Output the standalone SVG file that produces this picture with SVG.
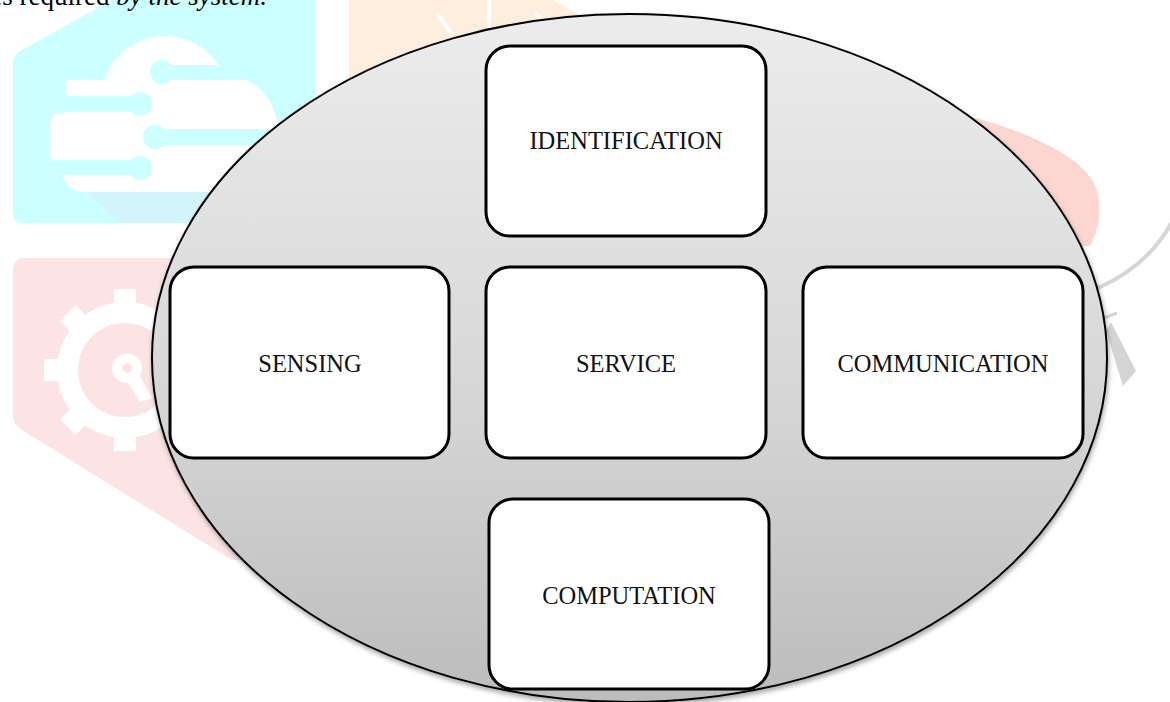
<svg xmlns="http://www.w3.org/2000/svg" width="1170" height="702" viewBox="0 0 1170 702">
<defs>
<linearGradient id="ellGrad" x1="0" y1="0" x2="0" y2="1">
<stop offset="0" stop-color="#ececec"/>
<stop offset="0.5" stop-color="#d9d9d9"/>
<stop offset="1" stop-color="#bcbcbc"/>
</linearGradient>
<filter id="shadow" x="-5%" y="-5%" width="110%" height="115%">
<feGaussianBlur in="SourceAlpha" stdDeviation="2.5"/>
<feOffset dx="1" dy="3" result="b"/>
<feComponentTransfer><feFuncA type="linear" slope="0.35"/></feComponentTransfer>
<feMerge><feMergeNode/><feMergeNode in="SourceGraphic"/></feMerge>
</filter>
<style>
.box{fill:#ffffff;stroke:#000000;stroke-width:3}
.lbl{font-family:"Liberation Serif","Times New Roman",serif;font-size:24.5px;fill:#111111;text-anchor:middle}
.wm-cyan{fill:#ccffff}
.wm-pink{fill:#fde4e4}
.wm-peach{fill:#feeedd}
</style>
</defs>

<g id="watermark">
<path class="wm-cyan" d="M13,64 Q13,54 22,50 L112,0 L315,0 L315,223 L22,223 Q13,223 13,214 Z"/>
<polygon points="85,190 213,190 213,223 120,223" fill="#d2f4fb"/>
<g fill="#ffffff">
<circle cx="165" cy="100" r="64"/>
<circle cx="224" cy="128" r="53"/>
<path d="M65,80 L165,80 L165,115 L65,115 Z"/>
<path d="M60,113 L225,113 L225,192 L85,192 Q70,192 65,180 L50,160 L50,125 Q50,113 60,113 Z"/>
</g>
<g fill="#ccffff">
<rect x="162" y="65" width="90" height="15"/>
<circle cx="162" cy="72" r="12"/>
<rect x="40" y="96" width="100" height="16"/>
<circle cx="140" cy="104" r="12"/>
<rect x="155" y="129" width="130" height="16"/>
<circle cx="155" cy="137" r="12"/>
<rect x="40" y="160" width="100" height="15"/>
<circle cx="140" cy="168" r="12"/>
</g>
<polygon class="wm-peach" points="349,0 553,0 580,15 580,110 349,110"/>
<g stroke="#ffffff" stroke-width="4" fill="none">
<line x1="437" y1="13" x2="452" y2="34"/>
<line x1="489" y1="0" x2="489" y2="30"/>
<line x1="535" y1="13" x2="541" y2="18"/>
</g>
<path class="wm-pink" d="M13,270 Q13,258 25,258 L320,258 L320,560 L232,560 L22,430 Q13,425 13,415 Z"/>
<g fill="#ffffff">
<circle cx="125" cy="370" r="68"/>
<g transform="translate(125,370)">
<rect x="-11" y="-81" width="22" height="20" transform="rotate(0)"/>
<rect x="-11" y="-81" width="22" height="20" transform="rotate(45)"/>
<rect x="-11" y="-81" width="22" height="20" transform="rotate(90)"/>
<rect x="-11" y="-81" width="22" height="20" transform="rotate(135)"/>
<rect x="-11" y="-81" width="22" height="20" transform="rotate(180)"/>
<rect x="-11" y="-81" width="22" height="20" transform="rotate(225)"/>
<rect x="-11" y="-81" width="22" height="20" transform="rotate(270)"/>
<rect x="-11" y="-81" width="22" height="20" transform="rotate(315)"/>
</g>
</g>
<circle cx="125" cy="370" r="47" class="wm-pink"/>
<path d="M112,368 A15,15 0 1 1 140,376 L152,398 L140,402 L128,383 A15,15 0 0 1 112,368 Z" fill="#ffffff"/>
<circle cx="127" cy="368" r="5" class="wm-pink"/>
<path d="M968,116 C1030,132 1086,158 1097,190 C1102,214 1098,232 1090,246 L990,246 Z" fill="#fdd6d2"/>
<path d="M1098,288 Q1148,266 1172,222" fill="none" stroke="#d6d6d6" stroke-width="4"/>
<polygon points="1106,331 1111,322 1136,371 1123,386" fill="#d4d4d4"/>
<line x1="1104" y1="318" x2="1117" y2="313" stroke="#d4d4d4" stroke-width="3"/>
</g>

<text x="267" y="5" font-family="'Liberation Serif','Times New Roman',serif" font-size="27" fill="#000000" text-anchor="end">es required <tspan font-style="italic">by the system.</tspan></text>

<g id="container">
<ellipse cx="629.5" cy="358" rx="477.5" ry="344" fill="url(#ellGrad)" stroke="#000000" stroke-width="2" filter="url(#shadow)"/>
</g>

<g id="connectors"></g>

<g id="node-identification">
<rect class="box" x="486" y="46" width="280" height="190" rx="24" ry="24"/>
<text class="lbl" x="626" y="149">IDENTIFICATION</text>
</g>
<g id="node-sensing">
<rect class="box" x="170" y="267" width="279" height="191" rx="24" ry="24"/>
<text class="lbl" x="310" y="372">SENSING</text>
</g>
<g id="node-service">
<rect class="box" x="486" y="267" width="280" height="191" rx="24" ry="24"/>
<text class="lbl" x="626" y="372">SERVICE</text>
</g>
<g id="node-communication">
<rect class="box" x="803" y="267" width="280" height="191" rx="24" ry="24"/>
<text class="lbl" x="943" y="372">COMMUNICATION</text>
</g>
<g id="node-computation">
<rect class="box" x="489" y="499" width="280" height="190" rx="24" ry="24"/>
<text class="lbl" x="629" y="604">COMPUTATION</text>
</g>
</svg>
